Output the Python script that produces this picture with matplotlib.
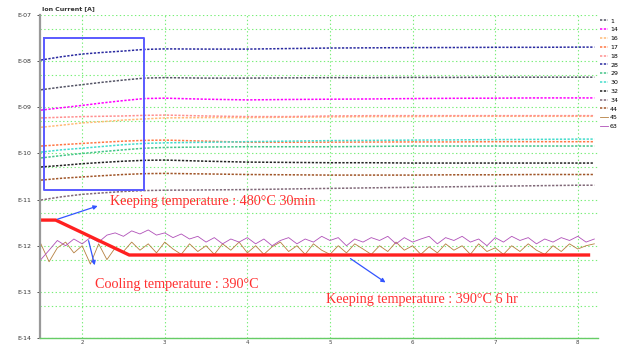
import numpy as np
import matplotlib
matplotlib.use('Agg')
import matplotlib.pyplot as plt
from matplotlib.ticker import LogLocator, NullFormatter, FixedLocator

# time axis (hr) for the smooth ion current traces
t = [1.5, 1.75, 2.0, 2.25, 2.5, 2.75, 3.0, 3.5, 4.0, 4.5, 5.0, 5.5, 6.0, 6.5, 7.0, 7.5, 8.0, 8.2]

m1 = [2.4e-9, 2.75e-9, 3.1e-9, 3.5e-9, 3.9e-9, 4.3e-9, 4.4e-9, 4.3e-9, 4.3e-9, 4.35e-9, 4.4e-9, 4.4e-9, 4.45e-9, 4.45e-9, 4.5e-9, 4.5e-9, 4.5e-9, 4.5e-9]
m14 = [8.7e-10, 9.8e-10, 1.1e-9, 1.25e-9, 1.4e-9, 1.55e-9, 1.58e-9, 1.5e-9, 1.45e-9, 1.48e-9, 1.5e-9, 1.52e-9, 1.55e-9, 1.57e-9, 1.58e-9, 1.6e-9, 1.6e-9, 1.6e-9]
m16 = [3.7e-10, 4.1e-10, 4.6e-10, 4.9e-10, 5.3e-10, 5.6e-10, 5.9e-10, 6.0e-10, 6.0e-10, 6.1e-10, 6.2e-10, 6.3e-10, 6.3e-10, 6.4e-10, 6.4e-10, 6.4e-10, 6.4e-10, 6.4e-10]
m17 = [1.45e-10, 1.55e-10, 1.65e-10, 1.75e-10, 1.85e-10, 1.92e-10, 1.95e-10, 1.85e-10, 1.75e-10, 1.75e-10, 1.76e-10, 1.77e-10, 1.78e-10, 1.78e-10, 1.8e-10, 1.8e-10, 1.8e-10, 1.8e-10]
m18 = [5.9e-10, 6.1e-10, 6.3e-10, 6.4e-10, 6.5e-10, 6.7e-10, 6.8e-10, 6.5e-10, 6.3e-10, 6.3e-10, 6.5e-10, 6.6e-10, 6.6e-10, 6.6e-10, 6.6e-10, 6.6e-10, 6.6e-10, 6.6e-10]
m28 = [1.06e-8, 1.25e-8, 1.43e-8, 1.55e-8, 1.66e-8, 1.8e-8, 1.85e-8, 1.83e-8, 1.83e-8, 1.88e-8, 1.93e-8, 1.95e-8, 1.97e-8, 1.98e-8, 2.0e-8, 2.0e-8, 2.02e-8, 2.02e-8]
m29 = [8.0e-11, 9.0e-11, 1.0e-10, 1.1e-10, 1.2e-10, 1.3e-10, 1.35e-10, 1.38e-10, 1.4e-10, 1.4e-10, 1.4e-10, 1.42e-10, 1.45e-10, 1.45e-10, 1.45e-10, 1.45e-10, 1.45e-10, 1.45e-10]
m30 = [1.07e-10, 1.2e-10, 1.3e-10, 1.42e-10, 1.55e-10, 1.65e-10, 1.7e-10, 1.75e-10, 1.8e-10, 1.85e-10, 1.9e-10, 1.92e-10, 1.95e-10, 1.97e-10, 2.0e-10, 2.02e-10, 2.05e-10, 2.05e-10]
m32 = [5.1e-11, 5.5e-11, 6.0e-11, 6.4e-11, 6.8e-11, 7.1e-11, 7.2e-11, 6.8e-11, 6.5e-11, 6.4e-11, 6.3e-11, 6.3e-11, 6.2e-11, 6.2e-11, 6.2e-11, 6.2e-11, 6.2e-11, 6.2e-11]
m34 = [9.8e-12, 1.15e-11, 1.3e-11, 1.4e-11, 1.5e-11, 1.57e-11, 1.6e-11, 1.62e-11, 1.65e-11, 1.7e-11, 1.75e-11, 1.8e-11, 1.85e-11, 1.9e-11, 1.95e-11, 2.0e-11, 2.05e-11, 2.05e-11]
m44 = [2.65e-11, 2.9e-11, 3.1e-11, 3.3e-11, 3.5e-11, 3.65e-11, 3.7e-11, 3.6e-11, 3.5e-11, 3.45e-11, 3.4e-11, 3.4e-11, 3.4e-11, 3.45e-11, 3.45e-11, 3.5e-11, 3.5e-11, 3.5e-11]

# noisy traces near the detection floor, one value per 0.1 hr from 1.5 to 8.2
t_noise = np.round(np.arange(1.5, 8.21, 0.1), 2)
m45 = [1.1e-12, 4.5e-13, 9.0e-13, 1.2e-12, 7.0e-13, 1.0e-12, 4.0e-13, 1.1e-12, 5.0e-13, 9.0e-13,
       7.5e-13, 1.2e-12, 8.0e-13, 1.1e-12, 7.0e-13, 1.2e-12, 8.5e-13, 6.5e-13, 1.1e-12, 7.5e-13,
       1.0e-12, 6.5e-13, 1.1e-12, 8.0e-13, 1.2e-12, 7.0e-13, 1.0e-12, 6.5e-13, 9.5e-13, 1.2e-12,
       7.5e-13, 1.0e-12, 6.5e-13, 1.1e-12, 8.0e-13, 6.5e-13, 1.0e-12, 7.0e-13, 1.1e-12, 8.5e-13,
       6.5e-13, 1.0e-12, 7.5e-13, 1.2e-12, 8.0e-13, 1.0e-12, 6.5e-13, 9.5e-13, 7.0e-13, 1.1e-12,
       8.0e-13, 1.0e-12, 6.5e-13, 1.1e-12, 7.5e-13, 9.0e-13, 6.5e-13, 1.0e-12, 7.5e-13, 1.1e-12,
       8.0e-13, 6.5e-13, 1.0e-12, 7.5e-13, 1.1e-12, 8.5e-13, 1.0e-12, 1.1e-12]
m63 = [5.0e-13, 8.0e-13, 1.3e-12, 1.0e-12, 1.4e-12, 1.1e-12, 1.5e-12, 1.2e-12, 1.7e-12, 1.9e-12,
       1.6e-12, 2.1e-12, 1.8e-12, 2.2e-12, 1.7e-12, 1.9e-12, 1.5e-12, 1.8e-12, 1.4e-12, 1.6e-12,
       1.2e-12, 1.5e-12, 1.1e-12, 1.4e-12, 1.2e-12, 1.5e-12, 1.1e-12, 1.4e-12, 1.0e-12, 1.3e-12,
       1.5e-12, 1.1e-12, 1.4e-12, 1.2e-12, 1.6e-12, 1.3e-12, 1.5e-12, 1.0e-12, 1.4e-12, 1.2e-12,
       1.5e-12, 1.3e-12, 1.6e-12, 1.1e-12, 1.5e-12, 1.2e-12, 1.4e-12, 1.6e-12, 1.1e-12, 1.5e-12,
       1.3e-12, 1.6e-12, 1.2e-12, 1.4e-12, 1.0e-12, 1.5e-12, 1.2e-12, 1.6e-12, 1.3e-12, 1.5e-12,
       1.1e-12, 1.4e-12, 1.2e-12, 1.5e-12, 1.3e-12, 1.6e-12, 1.2e-12, 1.4e-12]

# temperature profile (drawn on the same log axis)
t_temp = [1.5, 1.68, 2.57, 8.15]
temp_curve = [3.6e-12, 3.6e-12, 6.3e-13, 6.3e-13]

labels = ['1', '14', '16', '17', '18', '28', '29', '30', '32', '34', '44', '45', '63']
colors = ['#555566', '#ff00ff', '#ffbb77', '#ff7744', '#ff8f8f', '#2a2aa0', '#44c488',
          '#44dccc', '#222222', '#806878', '#a05528', '#b58040', '#b050b8']
smooth = {'1': m1, '14': m14, '16': m16, '17': m17, '18': m18, '28': m28, '29': m29,
          '30': m30, '32': m32, '34': m34, '44': m44}
noisy = {'45': m45, '63': m63}

fig = plt.figure(figsize=(6.31, 3.48), dpi=100)
ax = fig.add_axes([0.0634, 0.0287, 0.885, 0.928])

for lab, col in zip(labels, colors):
    if lab in smooth:
        ax.plot(t, smooth[lab], color=col, lw=1.1, ls=(0, (1.5, 1.0)), label=lab)
    else:
        ax.plot(t_noise, noisy[lab], color=col, lw=0.6, label=lab)

ax.plot(t_temp, temp_curve, color='#ff2020', lw=2.4, solid_capstyle='butt')

# box around the heating period
ax.plot([1.536, 2.745, 2.745, 1.536, 1.536], [3.17e-8, 3.17e-8, 1.61e-11, 1.61e-11, 3.17e-8],
        color='#5a5aff', lw=1.4)

ax.set_yscale('log')
ax.set_xlim(1.49, 8.25)
ax.set_ylim(1e-14, 1e-7)
ax.xaxis.set_major_locator(FixedLocator([2, 3, 4, 5, 6, 7, 8]))
ax.yaxis.set_minor_locator(LogLocator(base=10, subs=[5], numticks=10))
ax.yaxis.set_minor_formatter(NullFormatter())
ax.set_yticks([10.0 ** e for e in range(-14, -6)])
ax.set_yticklabels(['E-%02d' % -e for e in range(-14, -6)])
ax.tick_params(axis='y', which='major', labelsize=4.5, length=2, width=0.6, colors='#333333', pad=4)
ax.tick_params(axis='y', which='minor', length=0)
ax.tick_params(axis='x', labelsize=4, length=0, pad=1.5, colors='#444444')
ax.grid(True, which='both', color='#77ee77', ls=(0, (1.2, 2.2)), lw=0.8)

for s in ['top', 'right']:
    ax.spines[s].set_visible(False)
ax.spines['left'].set_color('#999999')
ax.spines['left'].set_linewidth(1.6)
ax.spines['bottom'].set_color('#66cc66')
ax.spines['bottom'].set_linewidth(1.0)

fig.text(0.067, 0.975, 'Ion Current [A]', fontsize=4.5, fontweight='bold', color='#333333',
         va='center', ha='left')

txt = dict(color='#ff3030', fontsize=10.2, family='Liberation Serif')
arr = dict(arrowstyle='-|>', color='#3355ff', lw=0.9, mutation_scale=6)
ax.annotate('', xy=(2.22, 7.6e-12), xytext=(1.67, 3.6e-12), arrowprops=arr)
ax.annotate('', xy=(2.16, 3.3e-13), xytext=(2.07, 1.47e-12), arrowprops=arr)
ax.annotate('', xy=(5.70, 1.48e-13), xytext=(5.22, 5.7e-13), arrowprops=arr)
ax.text(2.34, 7.6e-12, 'Keeping temperature : 480\u00b0C 30min', va='baseline', **txt)
ax.text(2.16, 1.21e-13, 'Cooling temperature : 390\u00b0C', va='baseline', **txt)
ax.text(4.95, 5.7e-14, 'Keeping temperature : 390\u00b0C 6 hr', va='baseline', **txt)

handles, labs = ax.get_legend_handles_labels()
leg = fig.legend(handles, labs, loc='upper left', bbox_to_anchor=(0.947, 0.955),
                 frameon=False, fontsize=4.5, handlelength=1.2, handletextpad=0.4,
                 labelspacing=0.55, borderaxespad=0)

fig.savefig('out.png', dpi=100)
